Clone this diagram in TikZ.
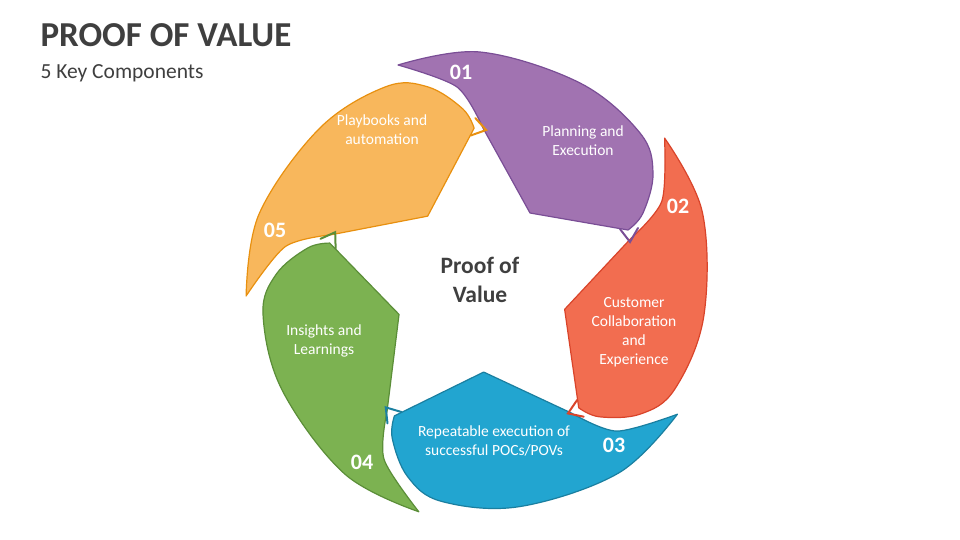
\documentclass[tikz,border=0pt]{standalone}
\usepackage{fontspec}
\setmainfont{Carlito}
\definecolor{pf}{HTML}{A173B1}\definecolor{pd}{HTML}{7A4E96}
\definecolor{rf}{HTML}{F26D50}\definecolor{rd}{HTML}{D9442A}
\definecolor{bf}{HTML}{22A5D0}\definecolor{bd}{HTML}{1A7FA0}
\definecolor{gf}{HTML}{7CB251}\definecolor{gd}{HTML}{5B8E38}
\definecolor{of}{HTML}{F8B75C}\definecolor{od}{HTML}{E8900F}
\definecolor{tg}{HTML}{3F3F3F}
\begin{document}
\begin{tikzpicture}[x=1pt,y=-1pt,
  seg/.style={line width=1.2pt,line join=round},
  lbl/.style={text=white,align=center,font=\fontsize{15.5}{19}\selectfont},
  num/.style={text=white,font=\bfseries\fontsize{22}{24}\selectfont}]
\useasboundingbox (0,0) rectangle (960,540);
\def\seg#1#2#3{%
\begin{scope}[shift={(481,285)},rotate=#1]
\draw[seg,fill=#2,draw=#3] (-83,-220) -- plot[smooth,tension=0.6] coordinates {(-83,-220) (-1,-233) (99,-202) (159,-152) (172,-112) (162,-72) (147,-55)} -- (49,-72) -- (2,-157) -- plot[smooth] coordinates {(2,-157) (-24,-198) (-83,-220)} -- cycle;
\end{scope}}
\def\tip#1#2{%
\begin{scope}[shift={(481,285)},rotate=#1]
\draw[#2,line width=2pt,line cap=round,line join=miter] (139,-56) -- (149,-43) -- (157,-57);
\end{scope}}
\seg{0}{pf}{pd}
\seg{-72}{rf}{rd}
\seg{-144}{bf}{bd}
\seg{-216}{gf}{gd}
\seg{-288}{of}{od}
\tip{0}{pd}\tip{-72}{rd}\tip{-144}{bd}\tip{-216}{gd}\tip{-288}{od}
\node[anchor=west,text=tg,font=\bfseries\fontsize{35}{37}\selectfont] (title) at (37,35) {PROOF OF VALUE};
\node[anchor=west,text=tg,font=\fontsize{21.5}{24}\selectfont] (sub) at (37,73) {5 Key Components};
\node[align=center,text=tg,font=\bfseries\fontsize{23.5}{29}\selectfont] (c) at (480,280) {Proof of\\Value};
\node[num] (n1) at (461,72) {01};
\node[num] (n2) at (678,206) {02};
\node[num] (n3) at (614,445) {03};
\node[num] (n4) at (362,462) {04};
\node[num] (n5) at (275,230) {05};
\node[lbl] (l1) at (583,141) {Planning and\\Execution};
\node[lbl] (l2) at (634,332) {Customer\\Collaboration\\and\\Experience};
\node[lbl] (l3) at (494,441) {Repeatable execution of\\successful POCs/POVs};
\node[lbl] (l4) at (324,341) {Insights and\\Learnings};
\node[lbl] (l5) at (382,130) {Playbooks and\\automation};
\end{tikzpicture}
\end{document}
